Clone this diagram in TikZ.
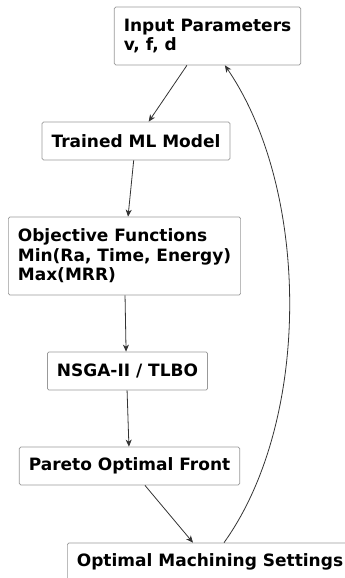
\documentclass[tikz,border=0pt]{standalone}
\usepackage{fontspec}
\setmainfont{DejaVu Sans}
\usepackage{xcolor}
\usetikzlibrary{arrows.meta,positioning,calc}

\definecolor{boxline}{HTML}{999999}
\definecolor{arrowline}{HTML}{333333}

\tikzset{
	box/.style={draw=boxline, line width=0.7pt, rounded corners=1.5pt, fill=white, align=left,
		inner xsep=9.5pt, inner ysep=4pt, minimum height=38pt,
		font=\fontsize{17}{19.5}\selectfont\bfseries},
	flow/.style={draw=arrowline, line width=0.8pt, -{Stealth[length=7pt,width=6pt,inset=2pt]}}
}

\begin{document}
\begin{tikzpicture}[x=1pt,y=-1pt]
		\useasboundingbox (0,0) rectangle (345,578);
		\clip (0,0) rectangle (345,578);

		\node[box, minimum height=58pt] (input) at (207.5,36) {Input Parameters\\v, f, d};
		\node[box] (model) at (136,141) {Trained ML Model};
		\node[box, minimum height=78pt] (objective) at (124.5,256) {Objective Functions\\Min(Ra, Time, Energy)\\Max(MRR)};
		\node[box] (nsga) at (127.5,371) {NSGA-II / TLBO};
		\node[box] (pareto) at (129.5,466) {Pareto Optimal Front};
		\node[box, anchor=west] (optimal) at (67,562) {Optimal Machining Settings};

		\draw[flow] ($(input.south west)+(73,0)$) -- ($(model.north west)+(107,0)$);
		\draw[flow] ($(model.south west)+(92,0)$) -- ($(objective.north west)+(120,0)$);
		\draw[flow] ($(objective.south west)+(117,0)$) -- ($(nsga.north west)+(79,0)$);
		\draw[flow] ($(nsga.south west)+(80,0)$) -- ($(pareto.north west)+(110,0)$);
		\draw[flow] ($(pareto.south west)+(126,0)$) -- ($(optimal.north west)+(126,0)$);
		\draw[flow] ($(optimal.north west)+(157,0)$) .. controls (312,420) and (310,190) .. ($(input.south west)+(111,0)$);
	\end{tikzpicture}
\end{document}
